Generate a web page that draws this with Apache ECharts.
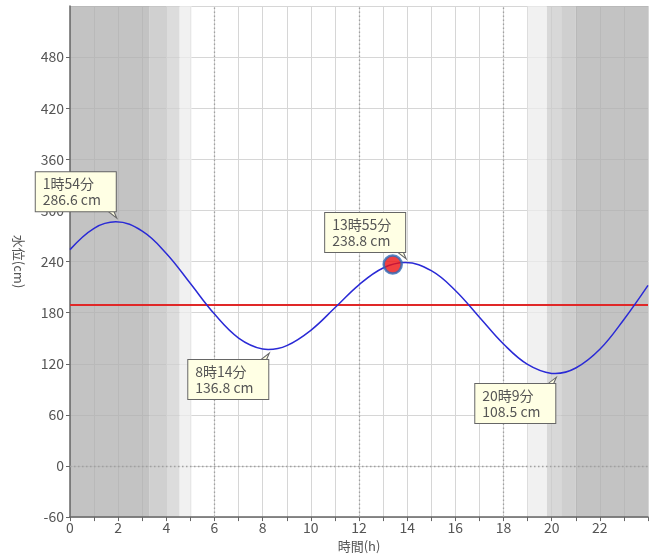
<!DOCTYPE html>
<html>
<head>
<meta charset="UTF-8">
<title>潮位グラフ</title>
<script type="text/javascript" src="https://cdn.jsdelivr.net/npm/echarts@6/dist/echarts.min.js"></script>
<style>
  html, body { margin: 0; padding: 0; background: #fff; }
</style>
</head>
<body>
<div id="main" style="width:652px;height:558px"></div>
<script type="text/javascript">
// 潮位 (時刻[h], 水位[cm])
var hours  = [0, 1, 1.9, 3, 4, 5, 6, 7, 8, 8.23, 9, 10, 11, 12, 13, 13.92, 15, 16, 17, 18, 19, 20, 20.15, 21, 22, 23, 24];
var levels = [254, 279, 286.6, 275.7, 249.5, 214.2, 178.3, 150.2, 137.3, 136.8, 141.3, 159.3, 185.7, 212.7, 232.4, 238.8, 229.3, 206.1, 174.7, 143.2, 119.2, 108.7, 108.5, 115, 137, 172, 212];

// 満潮・干潮
var tideHours  = [1.9, 8.233, 13.917, 20.15];
var tideLevels = [286.6, 136.8, 238.8, 108.5];
var tideTimes  = ['1時54分', '8時14分', '13時55分', '20時9分'];
var tideHigh   = [true, false, true, false];

// 現在
var nowHour = 13.4;
var nowLevel = 236.5;

// 基準線
var refLevel = 189;

// 夜・薄明の帯
var bandStart = [0, 3.3, 4.0, 4.55, 19.0, 19.8, 20.4, 21.0];
var bandEnd   = [3.3, 4.0, 4.55, 5.05, 19.8, 20.4, 21.0, 24];
var bandGray  = [175, 192, 208, 236, 236, 203, 191, 175];

var myEcharts = echarts.init(document.getElementById('main'));

var font = 'Noto Sans CJK JP';
var textColor = '#555';
var axisColor = '#666';
var gridColor = '#d6d6d6';
var boxFill = '#ffffe4';
var boxLine = '#666';

var curve = hours.map(function (h, i) { return [h, levels[i]]; });

var bands = bandStart.map(function (s, i) {
  var g = bandGray[i];
  return [{ xAxis: s, itemStyle: { color: 'rgba(' + g + ',' + g + ',' + g + ',0.75)' } }, { xAxis: bandEnd[i] }];
});

//吹き出し本体
var boxes = tideHours.map(function (h, i) {
  return {
    coord: [h, tideLevels[i]],
    value: tideTimes[i] + '\n' + tideLevels[i] + ' cm',
    label: { offset: tideHigh[i] ? [-80, -30] : [-80, 30] }
  };
});

//吹き出しのしっぽ
var tails = tideHours.map(function (h, i) {
  return {
    coord: [h, tideLevels[i]],
    symbol: tideHigh[i] ? 'path://M0,0 L9,7 L6,0' : 'path://M0,7 L9,0 L6,7',
    symbolOffset: tideHigh[i] ? [-3.5, -7.2] : [-3.5, 7.2]
  };
});

var hidden = { show: false };

var option = {
  animation: false,
  textStyle: { fontFamily: font },
  grid: { left: 70, right: 4, top: 6, bottom: 39 },
  xAxis: [
    {
      // 目盛線だけ(帯の下)
      type: 'value', min: 0, max: 24, interval: 1, z: 0,
      axisLine: hidden, axisTick: hidden, axisLabel: hidden,
      splitLine: { show: true, lineStyle: { color: gridColor, width: 1 } }
    },
    {
      // 軸線・ラベル(帯の上、吹き出しの下)
      type: 'value', min: 0, max: 24, interval: 1, z: 3, position: 'bottom',
      name: '時間(h)',
      nameLocation: 'middle',
      nameGap: 22,
      nameTextStyle: { color: textColor, fontSize: 13, fontFamily: font },
      axisLine: { show: true, onZero: false, lineStyle: { color: axisColor, width: 1.5 } },
      axisTick: { show: true, length: 4, lineStyle: { color: axisColor } },
      axisLabel: {
        color: textColor, fontSize: 14, margin: 4,
        formatter: function (v) { return (v % 2 === 0 && v < 24) ? String(v) : ''; }
      },
      splitLine: hidden
    }
  ],
  yAxis: [
    {
      type: 'value', min: -60, max: 540, interval: 60, z: 0,
      axisLine: hidden, axisTick: hidden, axisLabel: hidden,
      splitLine: { show: true, lineStyle: { color: gridColor, width: 1 } }
    },
    {
      type: 'value', min: -60, max: 540, interval: 60, z: 3, position: 'left',
      name: '水位(cm)',
      nameLocation: 'middle',
      nameRotate: -90,
      nameGap: 45,
      nameTextStyle: { color: textColor, fontSize: 13, fontFamily: font },
      axisLine: { show: true, onZero: false, lineStyle: { color: axisColor, width: 1.5 } },
      axisTick: { show: true, length: 4, lineStyle: { color: axisColor } },
      axisLabel: { color: textColor, fontSize: 14, margin: 6, showMaxLabel: false },
      splitLine: hidden
    }
  ],
  series: [
    {
      name: '帯',
      type: 'line',
      data: [],
      z: 1,
      silent: true,
      markArea: { silent: true, data: bands }
    },
    {
      name: '点線',
      type: 'line',
      data: [],
      z: 2,
      silent: true,
      markLine: {
        silent: true,
        symbol: 'none',
        label: { show: false },
        lineStyle: { color: '#a0a0a0', type: [1.5, 2.5], width: 1.3 },
        data: [{ xAxis: 6 }, { xAxis: 12 }, { xAxis: 18 }, { yAxis: 0 }]
      }
    },
    {
      name: '水位',
      type: 'line',
      smooth: 0.4,
      showSymbol: false,
      z: 5,
      lineStyle: { color: '#2a2ad6', width: 1.5 },
      data: curve,
      markLine: {
        silent: true,
        symbol: 'none',
        label: { show: false },
        lineStyle: { color: '#e02828', type: 'solid', width: 2 },
        data: [{ yAxis: refLevel }]
      },
      markPoint: {
        silent: true,
        symbol: 'circle',
        symbolSize: 0,
        label: {
          show: true,
          position: 'inside',
          formatter: function (p) { return p.data.value; },
          color: textColor,
          fontSize: 14,
          lineHeight: 16,
          align: 'left',
          width: 66,
          backgroundColor: boxFill,
          borderColor: boxLine,
          borderWidth: 1,
          padding: [4, 7, 3, 7]
        },
        data: boxes
      }
    },
    {
      name: 'しっぽ',
      type: 'line',
      data: [],
      z: 8,
      silent: true,
      markPoint: {
        silent: true,
        symbolSize: [9, 7],
        label: { show: false },
        itemStyle: { color: boxFill, borderColor: boxLine, borderWidth: 1 },
        data: tails
      }
    },
    {
      name: '現在',
      type: 'scatter',
      z: 10,
      symbolSize: 18,
      itemStyle: { color: '#ee1111', borderColor: '#2e6cb8', borderWidth: 2.5 },
      data: [[nowHour, nowLevel]]
    }
  ]
};
myEcharts.setOption(option);
</script>
</body>
</html>
